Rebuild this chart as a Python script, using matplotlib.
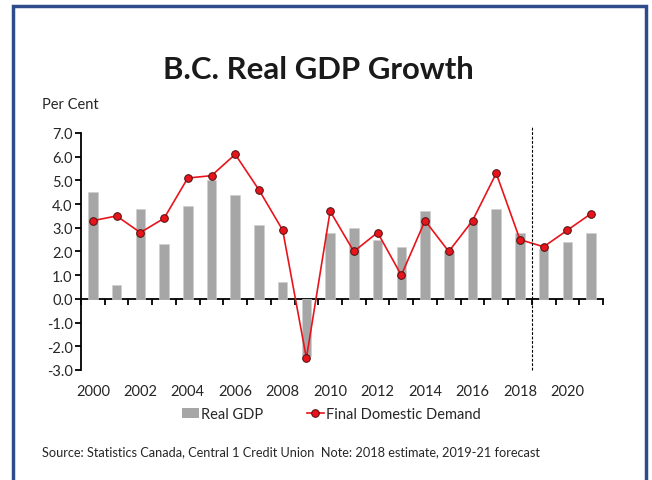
import matplotlib
matplotlib.use('Agg')
import matplotlib.pyplot as plt
from matplotlib.patches import Rectangle, Patch
from matplotlib.lines import Line2D

plt.rcParams['font.family'] = ['Lato', 'DejaVu Sans']

# 実質GDP成長率と最終国内需要（%）
years = list(range(2000, 2022))
real_gdp = [4.5, 0.6, 3.8, 2.3, 3.9, 5.0, 4.4, 3.1, 0.7, -2.4, 2.8,
            3.0, 2.5, 2.2, 3.7, 2.0, 3.2, 3.8, 2.8, 2.1, 2.4, 2.8]
final_demand = [3.3, 3.5, 2.8, 3.4, 5.1, 5.2, 6.1, 4.6, 2.9, -2.5, 3.7,
                2.0, 2.8, 1.0, 3.3, 2.0, 3.3, 5.3, 2.5, 2.2, 2.9, 3.6]
forecast_start = 2019
y_ticks = [-3, -2, -1, 0, 1, 2, 3, 4, 5, 6, 7]

text_color = '#262626'

fig = plt.figure(figsize=(6.52, 4.81), dpi=100)
fig.patch.set_facecolor('white')

# 外枠
fig.patches.append(Rectangle((13 / 652, -0.1), 633 / 652, 1.1 - 7 / 481,
                             transform=fig.transFigure, fill=False,
                             edgecolor='#2E4B8A', linewidth=2.5))

ax = fig.add_axes([81 / 652, (481 - 371) / 481, 522 / 652, 237 / 481])
x = list(range(len(years)))

ax.bar(x, real_gdp, width=0.4, color='#A6A6A6', edgecolor='#CFCFCF',
       linewidth=0.5, zorder=2)
ax.plot(x, final_demand, color='#E8141C', linewidth=1.2, marker='o',
        markersize=5.5, markerfacecolor='#E8141C', markeredgecolor='#4A1010',
        markeredgewidth=0.7, zorder=3)

# 予測期間の区切り線
split = years.index(forecast_start) - 0.5
ax.plot([split, split], [-3, 7.25], color='black', linestyle=(0, (2.5, 1.5)),
        linewidth=0.8, clip_on=False, zorder=4)

ax.set_xlim(-0.5, len(years) - 0.5)
ax.set_ylim(-3, 7)

for s in ['top', 'right', 'bottom']:
    ax.spines[s].set_visible(False)
ax.spines['left'].set_linewidth(1.3)

ax.set_yticks(y_ticks)
ax.set_yticklabels([f'{v:.1f}' for v in y_ticks])
ax.tick_params(axis='y', length=4, width=1.3, labelsize=10.5, pad=2,
               color='black', labelcolor=text_color)

# 年ラベル（2年ごと）は下端に
label_pos = [i for i, y in enumerate(years) if y % 2 == 0]
ax.set_xticks(label_pos)
ax.set_xticklabels([str(years[i]) for i in label_pos])
ax.tick_params(axis='x', length=0, labelsize=10.5, pad=10,
               labelcolor=text_color)

# ゼロ線と区切り目盛り
zero_axis = ax.secondary_xaxis(0.3)
zero_axis.spines['bottom'].set_linewidth(1.3)
zero_axis.set_xticks([i - 0.5 for i in range(len(years) + 1)])
zero_axis.tick_params(length=4, width=1.3, labelbottom=False)

fig.text(318 / 652, 1 - 70 / 481, 'B.C. Real GDP Growth', ha='center',
         va='center', fontsize=22.4, fontweight='bold', color='#1a1a1a')
fig.text(42 / 652, 1 - 105 / 481, 'Per Cent', ha='left', va='center',
         fontsize=10.5, color=text_color)

handles = [Patch(facecolor='#A6A6A6', edgecolor='none'),
           Line2D([], [], color='#E8141C', linewidth=1.2, marker='o',
                  markersize=5.5, markerfacecolor='#E8141C',
                  markeredgecolor='#4A1010', markeredgewidth=0.7)]
fig.legend(handles, ['Real GDP', 'Final Domestic Demand'], ncol=2,
           loc='center', bbox_to_anchor=(331 / 652, 1 - 415 / 481),
           frameon=False, fontsize=10.5, handlelength=1.2, handletextpad=0.1,
           columnspacing=3.0, labelcolor=text_color)

fig.text(42 / 652, 1 - 452 / 481,
         'Source: Statistics Canada, Central 1 Credit Union  '
         'Note: 2018 estimate, 2019-21 forecast',
         ha='left', va='center', fontsize=9.2, color=text_color)

fig.savefig('out.png', dpi=100, facecolor='white')
